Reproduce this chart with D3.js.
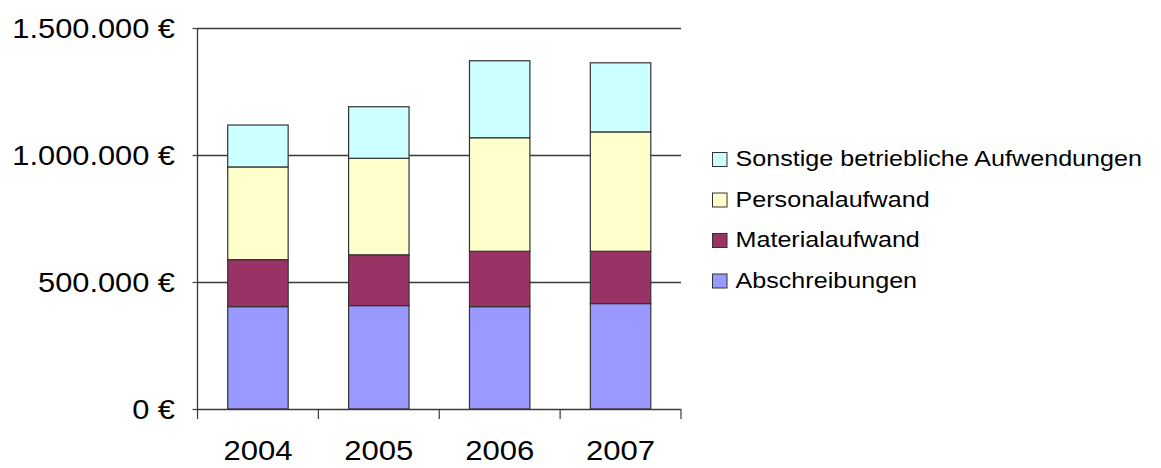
<!DOCTYPE html>
<html>
<head>
<meta charset="utf-8">
<script src="https://cdn.jsdelivr.net/npm/d3@7"></script>
<style>
  html, body { margin: 0; padding: 0; background: #fff; }
  svg { display: block; }
  text { font-family: "Liberation Sans", Arial, sans-serif; fill: #000; }
</style>
</head>
<body>
<svg id="chart" width="1161" height="468"></svg>
<script>
// Kostenstruktur 2004–2007, gestapelt
const years = ["2004", "2005", "2006", "2007"];
const seriesNames = ["Abschreibungen", "Materialaufwand", "Personalaufwand", "Sonstige betriebliche Aufwendungen"];
const abschreibungen = [403000, 407000, 403000, 415000];
const materialaufwand = [185000, 200000, 218000, 206000];
const personalaufwand = [365000, 380000, 447000, 470000];
const sonstige = [165000, 203000, 303000, 272000];
const yTicks = [0, 500000, 1000000, 1500000];
const yTickLabels = ["0 €", "500.000 €", "1.000.000 €", "1.500.000 €"];
const colors = ["#9999FF", "#993366", "#FFFFCC", "#CCFFFF"];

const svg = d3.select("#chart");
const plotLeft = 197.5, plotRight = 681, plotTop = 28, plotBottom = 409;

const x = d3.scaleBand().domain(years).range([plotLeft, plotRight]).paddingInner(0.5).paddingOuter(0.25);
const xOuter = d3.scaleBand().domain(years).range([plotLeft, plotRight]);
const y = d3.scaleLinear().domain([0, 1500000]).range([plotBottom, plotTop]);

const values = [abschreibungen, materialaufwand, personalaufwand, sonstige];
const rows = years.map((yr, i) => {
  const r = { year: yr };
  seriesNames.forEach((s, k) => r[s] = values[k][i]);
  return r;
});
const stacked = d3.stack().keys(seriesNames)(rows);

// Gitternetz
svg.append("g").selectAll("line").data(yTicks.filter(t => t > 0)).join("line")
  .attr("x1", plotLeft).attr("x2", plotRight)
  .attr("y1", d => Math.round(y(d)) + 0.5).attr("y2", d => Math.round(y(d)) + 0.5)
  .attr("stroke", "#3a3a3a").attr("stroke-width", 1.3);

// Balken
svg.append("g").selectAll("g").data(stacked).join("g")
  .attr("fill", (d, i) => colors[i])
  .selectAll("rect").data(d => d).join("rect")
  .attr("x", d => x(d.data.year))
  .attr("width", x.bandwidth())
  .attr("y", d => y(d[1]))
  .attr("height", d => y(d[0]) - y(d[1]))
  .attr("stroke", "#333").attr("stroke-width", 1.2);

// Achsen
svg.append("line").attr("x1", plotLeft).attr("x2", plotLeft).attr("y1", plotTop).attr("y2", plotBottom)
  .attr("stroke", "#3a3a3a").attr("stroke-width", 1.3);
svg.append("line").attr("x1", plotLeft).attr("x2", plotRight).attr("y1", plotBottom + 0.5).attr("y2", plotBottom + 0.5)
  .attr("stroke", "#3a3a3a").attr("stroke-width", 1.3);

// Y-Teilstriche
svg.append("g").selectAll("line").data(yTicks).join("line")
  .attr("x1", plotLeft - 5).attr("x2", plotLeft)
  .attr("y1", d => Math.round(y(d)) + 0.5).attr("y2", d => Math.round(y(d)) + 0.5)
  .attr("stroke", "#3a3a3a").attr("stroke-width", 1.2);

// X-Teilstriche an den Kategoriegrenzen
const bounds = years.map(yr => xOuter(yr)).concat([plotRight]);
svg.append("g").selectAll("line").data(bounds).join("line")
  .attr("x1", d => d).attr("x2", d => d)
  .attr("y1", plotBottom).attr("y2", plotBottom + 10)
  .attr("stroke", "#3a3a3a").attr("stroke-width", 1.2);

// Y-Beschriftung
svg.append("g").selectAll("text").data(yTicks).join("text")
  .attr("transform", d => `translate(175,${y(d) + 9.5}) scale(1.12,1)`)
  .attr("text-anchor", "end")
  .attr("font-size", 27.5)
  .text((d, i) => yTickLabels[i]);

// X-Beschriftung
svg.append("g").selectAll("text").data(years).join("text")
  .attr("transform", d => `translate(${xOuter(d) + xOuter.bandwidth() / 2},460) scale(1.15,1)`)
  .attr("text-anchor", "middle")
  .attr("font-size", 27)
  .text(d => d);

// Legende
const legendOrder = [3, 2, 1, 0];
const legend = svg.append("g").selectAll("g").data(legendOrder).join("g")
  .attr("transform", (d, i) => `translate(712,${159.5 + i * 40.5})`);
legend.append("rect")
  .attr("x", 0.5).attr("y", -7).attr("width", 14.5).attr("height", 14)
  .attr("fill", d => colors[d]).attr("stroke", "#333").attr("stroke-width", 1);
legend.append("text")
  .attr("transform", "translate(23.5,6.5) scale(1.127,1)")
  .attr("font-size", 22.3)
  .text(d => seriesNames[d]);
</script>
</body>
</html>
